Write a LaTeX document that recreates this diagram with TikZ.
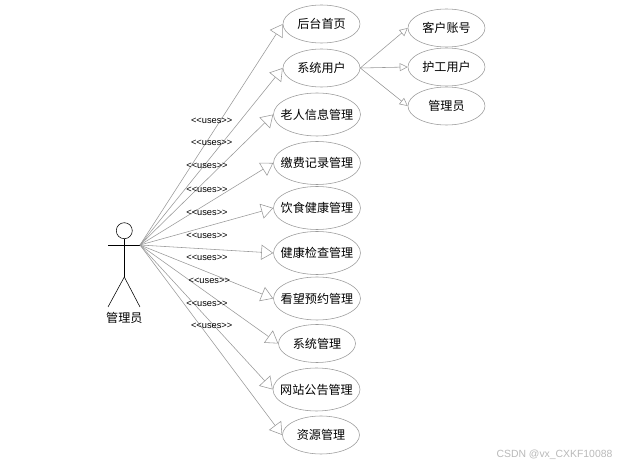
\documentclass[tikz,border=0pt]{standalone}
\usepackage{fontspec}
\setmainfont{Liberation Sans}
\newfontfamily\cjk{Noto Sans CJK SC}
\usetikzlibrary{shapes.geometric,arrows.meta}
\definecolor{trait}{gray}{0.6}
\newcommand{\unit}{*0.025cm}
\newcommand{\usestxt}{<{}<uses>{}>}
\tikzset{
  usecase/.style={ellipse,draw=trait,inner xsep=-5pt,inner ysep=0pt,minimum width=77\unit,minimum height=38\unit,font=\cjk\fontsize{8.6}{10}\selectfont},
  usecaselong/.style={usecase,minimum width=87\unit,minimum height=43\unit},
  uses/.style={font=\fontsize{6.6}{8}\selectfont,inner sep=0pt},
  lien/.style={draw=trait,-{Triangle[open,length=.3cm,width=.38cm]}},
  sublien/.style={draw=trait,-{Triangle[open,length=.2cm,width=.2cm]}}
}
\begin{document}
\begin{tikzpicture}[x=0.025cm,y=-0.025cm]
\useasboundingbox (0,0) rectangle (621,466);
%acteur
\node[circle,draw=black,inner sep=0pt,minimum size=.4cm] (tete) at (124.3,230.7) {};
\coordinate (bassin) at (124.3,277);
\coordinate (mainG) at (108,245);
\coordinate (mainD) at (140,245);
\coordinate (piedG) at (108,307);
\coordinate (piedD) at (140,307);
\draw (tete.south) -- (bassin);
\draw (mainG) -- (mainD);
\draw (piedG) -- (bassin) -- (piedD);
\node[font=\cjk\fontsize{8.6}{10}\selectfont,inner sep=0pt] (admin) at (124.3,318) {管理员};
%cas d'utilisation
\node[usecase] (accueil) at (321.5,24) {后台首页};
\node[usecase] (users) at (321.5,68) {系统用户};
\node[usecaselong] (vieux) at (317,114.5) {老人信息管理};
\node[usecaselong] (frais) at (317,163) {缴费记录管理};
\node[usecaselong] (repas) at (317,208) {饮食健康管理};
\node[usecaselong] (sante) at (317,253) {健康检查管理};
\node[usecaselong] (visite) at (317,298.5) {看望预约管理};
\node[usecase] (systeme) at (317,343.5) {系统管理};
\node[usecaselong] (annonce) at (316.5,389.5) {网站公告管理};
\node[usecase] (res) at (321,435) {资源管理};
\node[usecase] (client) at (446.5,28) {客户账号};
\node[usecase] (soin) at (446.5,67) {护工用户};
\node[usecase] (gestion) at (446.5,106) {管理员};
%fleches
\foreach \cible in {accueil,users,vieux,frais,repas,sante,visite,systeme,annonce,res}
  \draw[lien] (mainD) -- (\cible.west);
\draw[sublien] (users.east) -- (client.west);
\draw[sublien] (users.east) -- (soin.west);
\draw[sublien] (users.east) -- (gestion.west);
%etiquettes
\node[uses] (u1) at (211.7,120.5) {\usestxt};
\node[uses] (u2) at (211.7,142.5) {\usestxt};
\node[uses] (u3) at (207,165.8) {\usestxt};
\node[uses] (u4) at (207,189.8) {\usestxt};
\node[uses] (u5) at (207,212.8) {\usestxt};
\node[uses] (u6) at (207,235.8) {\usestxt};
\node[uses] (u7) at (207,257.8) {\usestxt};
\node[uses] (u8) at (209.3,280.8) {\usestxt};
\node[uses] (u9) at (207,303.8) {\usestxt};
\node[uses] (u10) at (211.7,325.8) {\usestxt};
%filigrane
\node[font=\fontsize{7.4}{9}\selectfont,text=gray!55,inner sep=0pt] (marque) at (554.5,454.5) {CSDN @vx\_CXKF10088};
\end{tikzpicture}
\end{document}
